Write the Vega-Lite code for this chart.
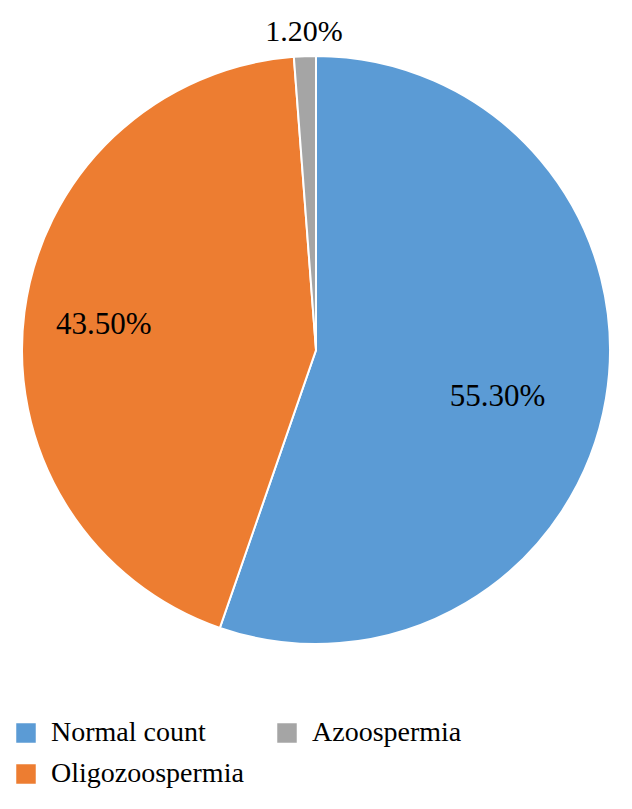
{
  "$schema": "https://vega.github.io/schema/vega-lite/v6.json",
  "width": 632,
  "height": 700,
  "padding": {"left": 0, "top": 0, "right": 0, "bottom": 109},
  "autosize": {"type": "none"},
  "background": "white",
  "config": {"view": {"stroke": null}, "font": "Liberation Serif"},
  "data": {"values": [
    {"category": "Normal count", "value": 55.3, "label": "55.30%"},
    {"category": "Oligozoospermia", "value": 43.5, "label": "43.50%"},
    {"category": "Azoospermia", "value": 1.2, "label": "1.20%"}
  ]},
  "encoding": {
    "theta": {"field": "value", "type": "quantitative", "stack": true},
    "order": {"field": "value", "type": "quantitative", "sort": "descending"}
  },
  "layer": [
    {
      "mark": {"type": "arc", "outerRadius": 294, "stroke": "white", "strokeWidth": 2},
      "encoding": {
        "color": {
          "field": "category", "type": "nominal",
          "scale": {"domain": ["Normal count", "Azoospermia", "Oligozoospermia"], "range": ["#5B9BD5", "#A5A5A5", "#ED7D31"]},
          "legend": {
            "title": null, "orient": "none", "legendX": 12, "legendY": 719,
            "direction": "horizontal", "columns": 2,
            "symbolType": "square", "symbolSize": 380, "symbolStrokeWidth": 0,
            "labelFont": "Liberation Serif", "labelFontSize": 28, "labelColor": "black",
            "labelOffset": 11, "columnPadding": 29, "rowPadding": 13, "labelLimit": 400
          }
        }
      }
    },
    {
      "mark": {"type": "text", "radius": 184, "dy": 17, "fontSize": 31, "font": "Liberation Serif", "color": "black"},
      "encoding": {"text": {"condition": {"test": "datum.category === 'Normal count'", "field": "label"}, "value": ""}}
    },
    {
      "mark": {"type": "text", "radius": 214, "dy": 2, "fontSize": 31, "font": "Liberation Serif", "color": "black"},
      "encoding": {"text": {"condition": {"test": "datum.category === 'Oligozoospermia'", "field": "label"}, "value": ""}}
    },
    {
      "mark": {"type": "text", "radius": 318, "fontSize": 30, "font": "Liberation Serif", "color": "black"},
      "encoding": {"text": {"condition": {"test": "datum.category === 'Azoospermia'", "field": "label"}, "value": ""}}
    }
  ]
}
